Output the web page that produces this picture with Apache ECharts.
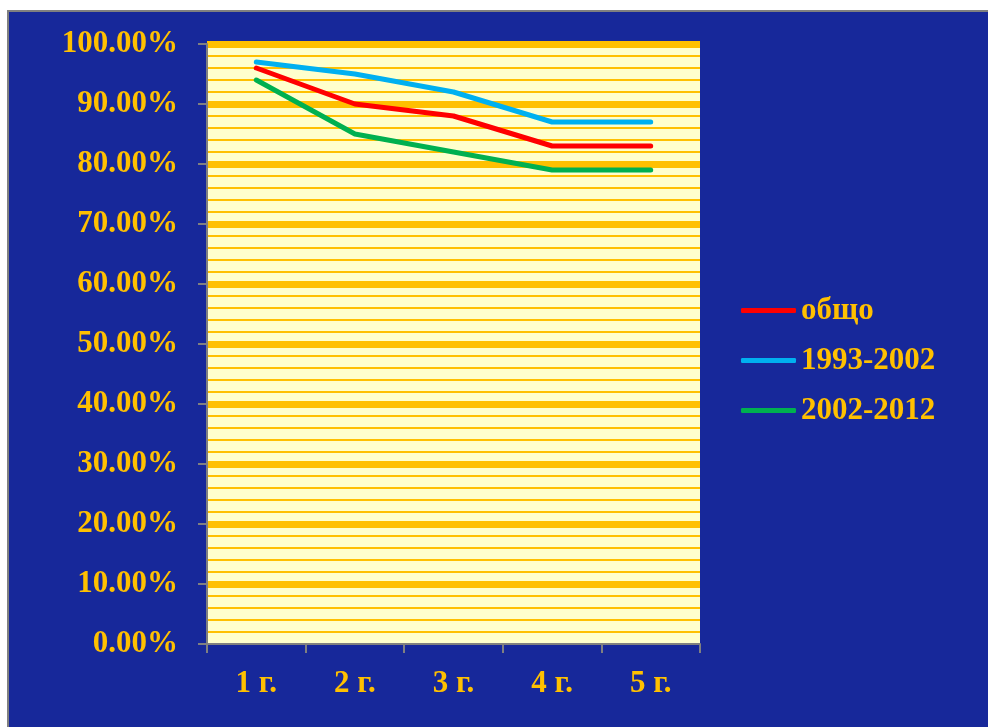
<!DOCTYPE html>
<html>
<head>
<meta charset="utf-8">
<script src="https://cdn.jsdelivr.net/npm/echarts@6/dist/echarts.min.js"></script>
<style>
  html, body { margin: 0; padding: 0; background: #ffffff; }
  #chart { width: 988px; height: 727px; }
</style>
</head>
<body>
<div id="chart"></div>
<script>
// Share remaining after N years
const categories = ['1 г.', '2 г.', '3 г.', '4 г.', '5 г.'];
const seriesNames = ['общо', '1993-2002', '2002-2012'];
const totalValues = [96, 90, 88, 83, 83];
const period1Values = [97, 95, 92, 87, 87];
const period2Values = [94, 85, 82, 79, 79];
const seriesColors = ['#ff0000', '#00b0f0', '#00b050'];

const gold = '#ffc000';
const fontFamily = '"Liberation Serif", "Times New Roman", serif';

const chart = echarts.init(document.getElementById('chart'));

const values = [totalValues, period1Values, period2Values];

chart.setOption({
  animation: false,
  graphic: [{
    type: 'rect',
    z: -10,
    silent: true,
    shape: { x: 8, y: 11, width: 990, height: 730 },
    style: { fill: '#17289a', stroke: '#808080', lineWidth: 2 }
  }],
  grid: {
    left: 207, right: 288, top: 44, bottom: 83,
    show: true,
    backgroundColor: '#ffffcc',
    borderWidth: 0
  },
  legend: {
    orient: 'vertical',
    left: 736,
    top: 290,
    itemWidth: 55,
    itemHeight: 5,
    itemGap: 19,
    icon: 'roundRect',
    textStyle: { color: gold, fontFamily: fontFamily, fontWeight: 'bold', fontSize: 31 },
    data: seriesNames
  },
  xAxis: {
    type: 'category',
    data: categories,
    boundaryGap: true,
    axisLine: { lineStyle: { color: '#808080', width: 2 } },
    axisTick: { show: true, length: 9, lineStyle: { color: '#808080', width: 2 } },
    axisLabel: { color: gold, fontFamily: fontFamily, fontWeight: 'bold', fontSize: 31, margin: 24 },
    splitLine: { show: false }
  },
  yAxis: {
    type: 'value',
    min: 0, max: 100, interval: 10,
    axisLine: { show: true, lineStyle: { color: '#808080', width: 2 } },
    axisTick: { show: true, length: 9, lineStyle: { color: '#808080', width: 2 } },
    axisLabel: {
      color: gold, fontFamily: fontFamily, fontWeight: 'bold', fontSize: 31, margin: 29,
      formatter: v => v.toFixed(2) + '%'
    },
    splitLine: { show: true, showMinLine: false, lineStyle: { color: gold, width: 7 } },
    minorTick: { show: false, splitNumber: 5 },
    minorSplitLine: { show: true, lineStyle: { color: gold, width: 2 } }
  },
  series: seriesNames.map((name, i) => ({
    name: name,
    type: 'line',
    data: values[i],
    symbol: 'none',
    showSymbol: false,
    color: seriesColors[i],
    itemStyle: { color: seriesColors[i] },
    lineStyle: { color: seriesColors[i], width: 5, cap: 'round', join: 'round' },
    z: 3 - i
  }))
});
</script>
</body>
</html>
